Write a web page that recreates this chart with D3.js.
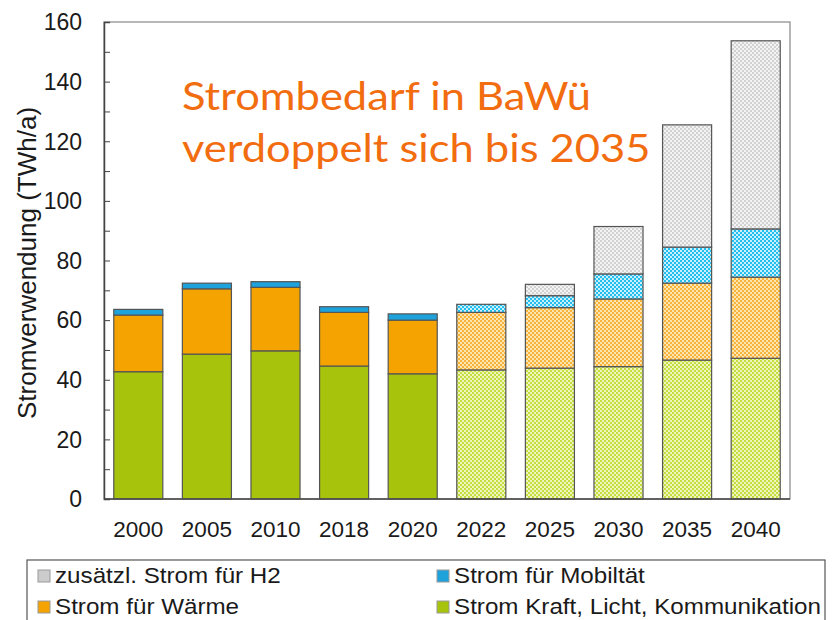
<!DOCTYPE html>
<html>
<head>
<meta charset="utf-8">
<script src="https://cdn.jsdelivr.net/npm/d3@7"></script>
<style>
  body { margin: 0; background: #fff; }
  text { font-family: "Liberation Sans", Arial, sans-serif; fill: #1a1a1a; }
  .title { font-family: Lato, "Open Sans", sans-serif; fill: #f26c10; }
</style>
</head>
<body>
<div id="vis-container"></div>
<script>
let width = 832;
let height = 620;

// years, the last five are projections (drawn hatched)
let years = ["2000", "2005", "2010", "2018", "2020", "2022", "2025", "2030", "2035", "2040"];
let projected = [false, false, false, false, false, true, true, true, true, true];

// TWh/a per component, bottom to top
let kraft    = [42.7, 48.6, 49.7, 44.6, 42.0, 43.3, 43.9, 44.4, 46.6, 47.2];
let waerme   = [19.0, 21.9, 21.3, 18.0, 18.0, 19.3, 20.3, 22.7, 25.8, 27.2];
let mobil    = [1.9, 1.9, 1.9, 1.9, 2.1, 2.7, 4.0, 8.4, 12.1, 16.2];
let h2       = [0, 0, 0, 0, 0, 0, 3.8, 15.9, 41.0, 63.1];

let series_keys = ["kraft", "waerme", "mobil", "h2"];
let series_labels = {
  h2: "zusätzl. Strom für H2",
  mobil: "Strom für Mobiltät",
  waerme: "Strom für Wärme",
  kraft: "Strom Kraft, Licht, Kommunikation"
};
let y_ticks = [0, 20, 40, 60, 80, 100, 120, 140, 160];

let colors = { kraft: "#a8c30c", waerme: "#f5a300", mobil: "#1ea2dc", h2: "#cccccc" };
let hatch = {
  kraft:  ["#c6dd40", "#eef6bc"],
  waerme: ["#f8b43a", "#fde5b2"],
  mobil:  ["#24bfee", "#c8effc"],
  h2:     ["#d2d2d2", "#f3f3f3"]
};

let table = years.map((yr, i) => ({
  year: yr, proj: projected[i],
  kraft: kraft[i], waerme: waerme[i], mobil: mobil[i], h2: h2[i]
}));

let svg = d3.select("#vis-container").append("svg")
  .attr("width", width)
  .attr("height", height);

// checkerboard patterns for projections
let defs = svg.append("defs");
series_keys.forEach(k => {
  let p = defs.append("pattern")
    .attr("id", "pat-" + k)
    .attr("width", 4).attr("height", 4)
    .attr("patternUnits", "userSpaceOnUse");
  p.append("rect").attr("width", 4).attr("height", 4).attr("fill", hatch[k][1]);
  p.append("rect").attr("width", 2).attr("height", 2).attr("fill", hatch[k][0]);
  p.append("rect").attr("x", 2).attr("y", 2).attr("width", 2).attr("height", 2).attr("fill", hatch[k][0]);
});

let x0 = 104, x1 = 790, y0 = 499, y1 = 22;

let x = d3.scaleBand()
  .domain(years)
  .range([x0, x1])
  .paddingInner(0.285)
  .paddingOuter(0.1425);

let y = d3.scaleLinear()
  .domain([0, 160])
  .range([y0, y1]);

let stack = d3.stack().keys(series_keys);
let stacked = stack(table);

// bars
svg.append("g")
  .selectAll("g")
  .data(stacked)
  .enter().append("g")
  .each(function(s) {
    d3.select(this).selectAll("rect")
      .data(s.filter(d => d[1] - d[0] > 0))
      .enter().append("rect")
      .attr("x", d => x(d.data.year))
      .attr("width", x.bandwidth())
      .attr("y", d => y(d[1]))
      .attr("height", d => y(d[0]) - y(d[1]))
      .attr("fill", d => d.data.proj ? "url(#pat-" + s.key + ")" : colors[s.key])
      .attr("stroke", "#555")
      .attr("stroke-width", 1.2);
  });

// frame
svg.append("rect")
  .attr("x", x0).attr("y", y1)
  .attr("width", x1 - x0).attr("height", y0 - y1)
  .attr("fill", "none")
  .attr("stroke", "#888")
  .attr("stroke-width", 1.2);

// y axis: ticks inside every 10, labels every 20
let yAxis = svg.append("g").attr("transform", "translate(" + x0 + ",0)");
yAxis.call(d3.axisRight(y).tickValues(d3.range(0, 161, 10)).tickSize(6).tickFormat(""));
yAxis.select(".domain").attr("stroke", "#444").attr("stroke-width", 1.5);
yAxis.selectAll(".tick line").attr("stroke", "#444");

svg.append("g")
  .selectAll("text")
  .data(y_ticks)
  .enter().append("text")
  .attr("x", 82)
  .attr("y", d => y(d))
  .attr("dy", "0.36em")
  .attr("text-anchor", "end")
  .style("font-size", "23px")
  .text(d => d);

// bottom axis line
svg.append("line")
  .attr("x1", x0).attr("x2", x1)
  .attr("y1", y0).attr("y2", y0)
  .attr("stroke", "#444").attr("stroke-width", 1.5);

svg.append("g")
  .selectAll("text")
  .data(years)
  .enter().append("text")
  .attr("x", d => x(d) + x.bandwidth() / 2)
  .attr("y", 537)
  .attr("text-anchor", "middle")
  .style("font-size", "22.5px")
  .text(d => d);

// y title
svg.append("text")
  .attr("transform", "translate(36,263) rotate(-90)")
  .attr("text-anchor", "middle")
  .style("font-size", "26px")
  .text("Stromverwendung (TWh/a)");

// orange headline (slightly widened like the source)
let title_lines = ["Strombedarf in BaWü", "verdoppelt sich bis 2035"];
svg.append("g")
  .attr("transform", "translate(182,0) scale(1.115,1)")
  .selectAll("text")
  .data(title_lines)
  .enter().append("text")
  .attr("class", "title")
  .attr("x", 0)
  .attr("y", (d, i) => 110 + i * 52)
  .style("font-size", "39px")
  .text(d => d);

// legend
svg.append("rect")
  .attr("x", 27).attr("y", 560)
  .attr("width", 798).attr("height", 70)
  .attr("fill", "#fff")
  .attr("stroke", "#555")
  .attr("stroke-width", 1.2);

let legend_order = ["h2", "mobil", "waerme", "kraft"];
let legend = svg.selectAll("g.legend")
  .data(legend_order)
  .enter().append("g")
  .attr("class", "legend")
  .attr("transform", (d, i) => "translate(" + (i % 2 === 0 ? 38 : 437) + "," + (i < 2 ? 583 : 614) + ")");

legend.append("rect")
  .attr("x", 0).attr("y", -13)
  .attr("width", 12).attr("height", 12)
  .attr("fill", d => colors[d])
  .attr("stroke", "#999")
  .attr("stroke-width", 1);

legend.append("text")
  .attr("transform", "translate(17,0) scale(1.1,1)")
  .style("font-size", "22px")
  .text(d => series_labels[d]);
</script>
</body>
</html>
